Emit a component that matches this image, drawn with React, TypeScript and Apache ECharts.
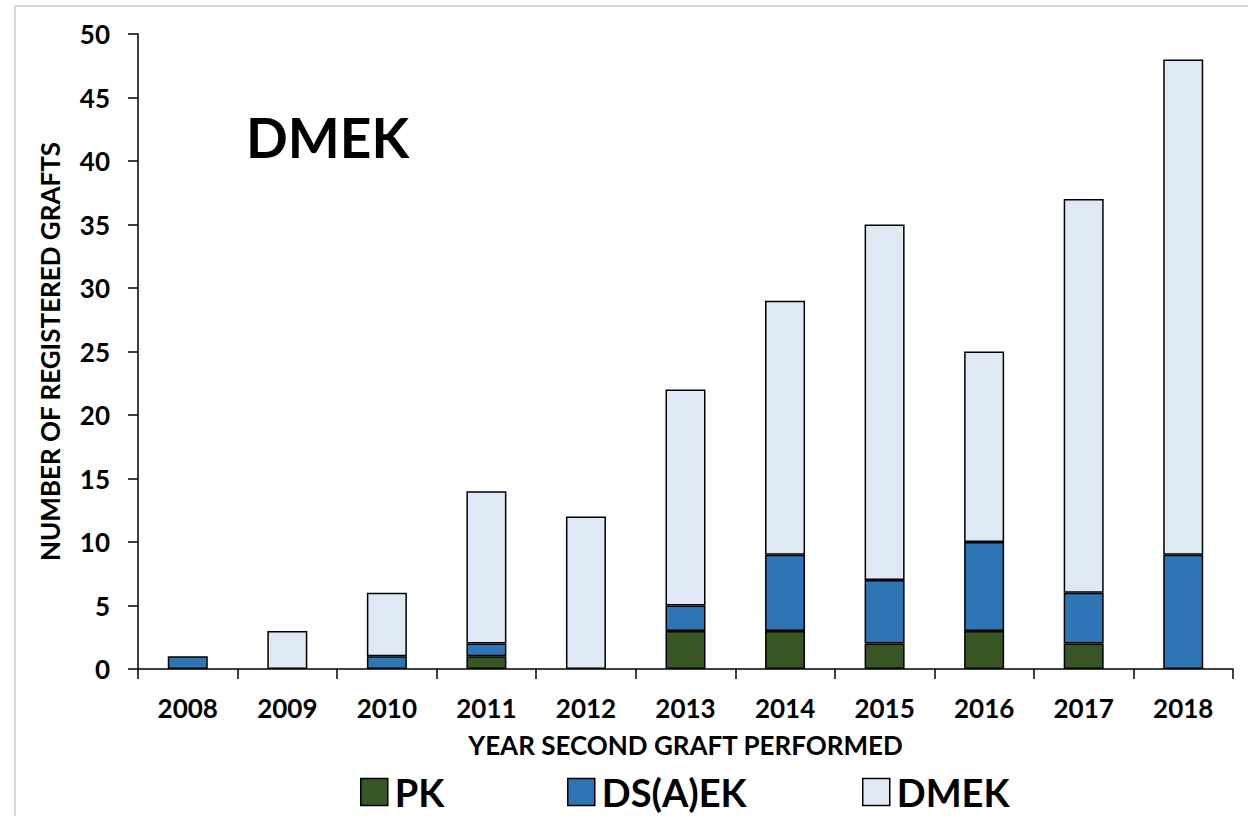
import React, { useEffect, useRef } from "react";
import * as echarts from "echarts";

const years = ["2008", "2009", "2010", "2011", "2012", "2013", "2014", "2015", "2016", "2017", "2018"];
const pk = [0, 0, 0, 1, 0, 3, 3, 2, 3, 2, 0];
const dsaek = [1, 0, 1, 1, 0, 2, 6, 5, 7, 4, 9];
const dmek = [0, 3, 5, 12, 12, 17, 20, 28, 15, 31, 39];
const seriesNames = ["PK", "DS(A)EK", "DMEK"];
const seriesColors = ["#375623", "#2e75b6", "#dee9f5"];
const yTicks = { min: 0, max: 50, interval: 5 };

const FONT = "Lato";

export default function App() {
  const ref = useRef<HTMLDivElement>(null);
  useEffect(() => {
    if (!ref.current) return;
    const chart = echarts.init(ref.current, null, { renderer: "svg" });
    const values = [pk, dsaek, dmek];
    const legendLeft = [360, 567, 862];
    const option: any = {
      animation: false,
      backgroundColor: "#ffffff",
      textStyle: { fontFamily: FONT },
      grid: { left: 138, right: 15, top: 34, bottom: 147, containLabel: false },
      xAxis: {
        type: "category",
        data: years,
        boundaryGap: true,
        name: "YEAR SECOND GRAFT PERFORMED",
        nameLocation: "middle",
        nameGap: 63,
        nameTextStyle: { fontFamily: FONT, fontWeight: "bold", fontSize: 26, color: "#000" },
        axisLine: { show: true, lineStyle: { color: "#000", width: 1.5 } },
        axisTick: { show: true, length: 10, interval: 0, lineStyle: { color: "#000", width: 1.5 } },
        axisLabel: { margin: 26, fontFamily: FONT, fontWeight: "bold", fontSize: 26, color: "#000", interval: 0 },
        splitLine: { show: false },
      },
      yAxis: {
        type: "value",
        min: yTicks.min,
        max: yTicks.max,
        interval: yTicks.interval,
        name: "NUMBER OF REGISTERED GRAFTS",
        nameLocation: "middle",
        nameRotate: 90,
        nameGap: 75,
        nameTextStyle: { fontFamily: FONT, fontWeight: "bold", fontSize: 26, color: "#000" },
        axisLine: { show: true, lineStyle: { color: "#000", width: 1.5 } },
        axisTick: { show: true, length: 10, lineStyle: { color: "#000", width: 1.5 } },
        axisLabel: { margin: 28, fontFamily: FONT, fontWeight: "bold", fontSize: 26, color: "#000" },
        splitLine: { show: false },
      },
      legend: seriesNames.map((n, i) => ({
        data: [n],
        left: legendLeft[i],
        top: 773,
        padding: 0,
        orient: "horizontal",
        itemWidth: 27,
        itemHeight: 27,
        itemGap: 0,
        icon: "rect",
        selectedMode: false,
        textStyle: { fontFamily: FONT, fontWeight: "bold", fontSize: 38, color: "#000", lineHeight: 38, padding: [0, 0, 0, 2] },
        itemStyle: { borderColor: "#000", borderWidth: 1.5 },
      })),
      series: seriesNames.map((n, i) => ({
        name: n,
        type: "bar",
        stack: "total",
        barWidth: 40,
        itemStyle: { color: seriesColors[i], borderColor: "#000", borderWidth: 1.5 },
        data: values[i].map((v) => (v === 0 ? null : v)),
      })),
      graphic: [
        {
          type: "line",
          shape: { x1: 15, y1: 6, x2: 1248, y2: 6 },
          style: { stroke: "#d9d9d9", lineWidth: 2 },
        },
        {
          type: "line",
          shape: { x1: 15, y1: 6, x2: 15, y2: 816 },
          style: { stroke: "#d9d9d9", lineWidth: 2 },
        },
        {
          type: "text",
          x: 246,
          y: 137,
          style: {
            text: "DMEK",
            fontFamily: FONT,
            fontWeight: "bold",
            fontSize: 55,
            fill: "#000",
            textVerticalAlign: "middle",
            textAlign: "left",
          },
        },
      ],
    };
    chart.setOption(option);
    return () => chart.dispose();
  }, []);
  return (
    <div
      ref={ref}
      style={{ position: "absolute", left: 0, top: 0, width: 1248, height: 816 }}
    />
  );
}
